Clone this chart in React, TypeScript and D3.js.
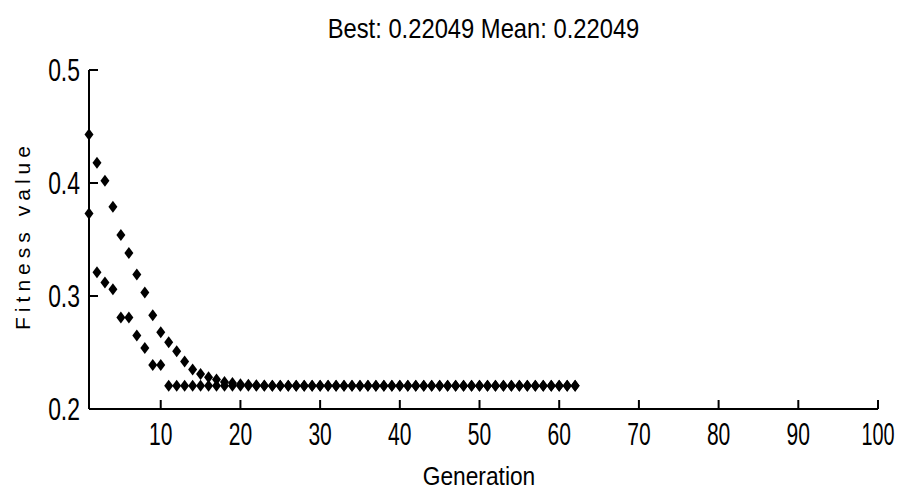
import React from "react";
import * as d3 from "d3";

const generations: number[] = [
  1, 2, 3, 4, 5, 6, 7, 8, 9, 10, 11, 12, 13, 14, 15, 16, 17, 18, 19, 20, 21,
  22, 23, 24, 25, 26, 27, 28, 29, 30, 31, 32, 33, 34, 35, 36, 37, 38, 39, 40,
  41, 42, 43, 44, 45, 46, 47, 48, 49, 50, 51, 52, 53, 54, 55, 56, 57, 58, 59,
  60, 61, 62,
];

const bestValues: number[] = [
  0.373, 0.321, 0.312, 0.306, 0.281, 0.281, 0.265, 0.254, 0.239, 0.239,
  0.22049, 0.22049, 0.22049, 0.22049, 0.22049, 0.22049, 0.22049, 0.22049,
  0.22049, 0.22049, 0.22049, 0.22049, 0.22049, 0.22049, 0.22049, 0.22049,
  0.22049, 0.22049, 0.22049, 0.22049, 0.22049, 0.22049, 0.22049, 0.22049,
  0.22049, 0.22049, 0.22049, 0.22049, 0.22049, 0.22049, 0.22049, 0.22049,
  0.22049, 0.22049, 0.22049, 0.22049, 0.22049, 0.22049, 0.22049, 0.22049,
  0.22049, 0.22049, 0.22049, 0.22049, 0.22049, 0.22049, 0.22049, 0.22049,
  0.22049, 0.22049, 0.22049, 0.22049,
];

const meanValues: number[] = [
  0.443, 0.418, 0.402, 0.379, 0.354, 0.338, 0.319, 0.303, 0.283, 0.268,
  0.259, 0.251, 0.242, 0.235, 0.231, 0.228, 0.226, 0.224, 0.223, 0.222,
  0.2215, 0.221, 0.2208, 0.22049, 0.22049, 0.22049, 0.22049, 0.22049,
  0.22049, 0.22049, 0.22049, 0.22049, 0.22049, 0.22049, 0.22049, 0.22049,
  0.22049, 0.22049, 0.22049, 0.22049, 0.22049, 0.22049, 0.22049, 0.22049,
  0.22049, 0.22049, 0.22049, 0.22049, 0.22049, 0.22049, 0.22049, 0.22049,
  0.22049, 0.22049, 0.22049, 0.22049, 0.22049, 0.22049, 0.22049, 0.22049,
  0.22049, 0.22049,
];

const xTicks: number[] = [10, 20, 30, 40, 50, 60, 70, 80, 90, 100];
const yTicks: number[] = [0.2, 0.3, 0.4, 0.5];

const titleText = "Best: 0.22049 Mean: 0.22049";
const xLabel = "Generation";
const yLabel = "Fitness value";

const W = 898;
const H = 489;

const x = d3.scaleLinear().domain([1, 100]).range([89, 878]);
const y = d3.scaleLinear().domain([0.2, 0.5]).range([409, 70]);

const font = "'Liberation Sans', Arial, sans-serif";

function diamond(cx: number, cy: number, hw: number, hh: number): string {
  const p = d3.path();
  p.moveTo(cx, cy - hh);
  p.lineTo(cx + hw, cy);
  p.lineTo(cx, cy + hh);
  p.lineTo(cx - hw, cy);
  p.closePath();
  return p.toString();
}

export default function App() {
  const [x0, x1] = x.range();
  const [y0, y1] = y.range();
  const tickLen = 9;
  const sx = 0.68;
  return (
    <svg
      width={W}
      height={H}
      viewBox={`0 0 ${W} ${H}`}
      style={{ position: "absolute", left: 0, top: 0, background: "#fff" }}
    >
      <rect x={0} y={0} width={W} height={H} fill="#fff" />
      {/* title */}
      <text
        transform={`translate(${(x0 + x1) / 2}, 38) scale(0.88, 1)`}
        textAnchor="middle"
        fontFamily={font}
        fontSize={27}
        fill="#000"
      >
        {titleText}
      </text>
      {/* axes */}
      <line x1={x0} x2={x1} y1={y0} y2={y0} stroke="#000" strokeWidth={2} />
      <line x1={x0} x2={x0} y1={y0} y2={y1} stroke="#000" strokeWidth={2} />
      {xTicks.map((t) => (
        <g key={"xt" + t}>
          <line
            x1={x(t)}
            x2={x(t)}
            y1={y0}
            y2={y0 - tickLen}
            stroke="#000"
            strokeWidth={2}
          />
          <text
            transform={`translate(${x(t)}, 445) scale(${t >= 100 ? 0.64 : sx}, 1)`}
            textAnchor="middle"
            fontFamily={font}
            fontSize={31}
            fill="#000"
          >
            {String(t)}
          </text>
        </g>
      ))}
      {yTicks.map((t) => (
        <g key={"yt" + t}>
          <line
            x1={x0}
            x2={x0 + tickLen}
            y1={y(t)}
            y2={y(t)}
            stroke="#000"
            strokeWidth={2}
          />
          <text
            transform={`translate(80, ${y(t) + 11}) scale(0.74, 1)`}
            textAnchor="end"
            fontFamily={font}
            fontSize={31}
            fill="#000"
          >
            {t.toFixed(1)}
          </text>
        </g>
      ))}
      {/* axis labels */}
      <text
        transform={`translate(479, 485) scale(0.91, 1)`}
        textAnchor="middle"
        fontFamily={font}
        fontSize={25}
        fill="#000"
      >
        {xLabel}
      </text>
      <text
        transform={`translate(30, 238) rotate(-90)`}
        x={0}
        y={0}
        textAnchor="middle"
        fontFamily={font}
        fontSize={21}
        textLength={184}
        lengthAdjust="spacing"
        fill="#000"
      >
        {yLabel}
      </text>
      {/* markers */}
      <g fill="#000">
        {generations.map((g, i) => (
          <path key={"m" + g} d={diamond(x(g), y(meanValues[i]), 4.5, 6)} />
        ))}
        {generations.map((g, i) => (
          <path key={"b" + g} d={diamond(x(g), y(bestValues[i]), 4.5, 6)} />
        ))}
      </g>
    </svg>
  );
}
